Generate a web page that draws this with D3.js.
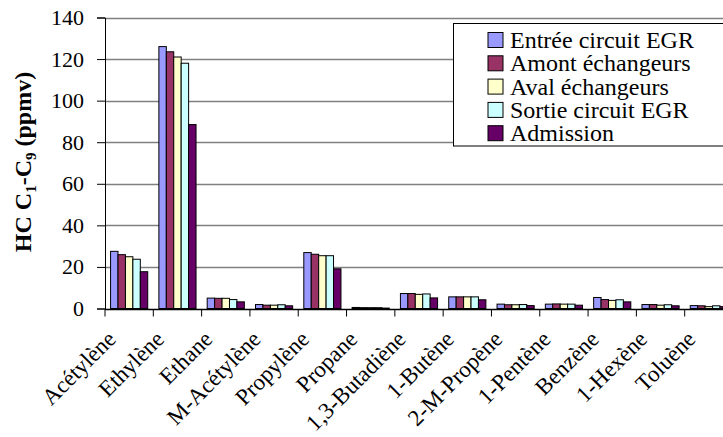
<!DOCTYPE html>
<html><head><meta charset="utf-8">
<script src="https://cdn.jsdelivr.net/npm/d3@7"></script>
<style>body{margin:0;background:#fff;} svg{display:block;} svg text{font-family:"Liberation Serif","Times New Roman",serif !important;fill:#000;}</style>
</head><body>
<svg id="c" width="723" height="437"></svg>
<script>
const categories = ["Acétylène","Ethylène","Ethane","M-Acétylène","Propylène","Propane","1,3-Butadiène","1-Butène","2-M-Propène","1-Pentène","Benzène","1-Hexène","Toluène"];
const seriesNames = ["Entrée circuit EGR","Amont échangeurs","Aval échangeurs","Sortie circuit EGR","Admission"];
const entree  = [27.5,126.0,5.0,1.9,26.9,0.5,7.2,5.6,2.1,2.1,5.3,1.9,1.4];
const amont   = [25.9,123.5,4.9,1.6,26.1,0.4,7.2,5.6,1.8,2.2,4.3,1.9,1.3];
const aval    = [24.9,121.0,4.9,1.6,25.4,0.4,6.8,5.6,1.8,2.1,3.9,1.6,0.9];
const sortie  = [23.7,118.0,4.3,1.8,25.4,0.4,7.0,5.6,1.9,2.1,4.2,1.8,1.3];
const admission = [17.7,88.5,3.2,1.3,19.1,0.2,5.1,4.2,1.4,1.6,3.2,1.3,0.9];
const yTicks = [0,20,40,60,80,100,120,140];
const colors = ["#9999FF","#993366","#FFFFCC","#CCFFFF","#660066"];
const series = [entree, amont, aval, sortie, admission];

const svg = d3.select("#c");
const mLeft = 105, mRight = 733, mTop = 17.5, mBottom = 308.5;
const x = d3.scaleBand().domain(categories).range([mLeft, mRight]).paddingInner(0).paddingOuter(0);
const bw = x.bandwidth();
const inner = d3.scaleBand().domain(d3.range(5)).range([0, bw]).paddingInner(0).paddingOuter(0.75);
const y = d3.scaleLinear().domain([0,140]).range([mBottom, mTop]);

// gridlines
svg.append("g").selectAll("line").data(yTicks.filter(d=>d>0)).join("line")
  .attr("x1", mLeft).attr("x2", mRight).attr("y1", d=>Math.round(y(d))+0.5).attr("y2", d=>Math.round(y(d))+0.5)
  .attr("stroke", "#808080").attr("stroke-width", 1.3);

// bars
const gs = svg.append("g");
series.forEach((vals, si) => {
  gs.append("g").selectAll("rect").data(vals).join("rect")
    .attr("x", (d,i)=> x(categories[i]) + inner(si))
    .attr("width", inner.bandwidth())
    .attr("y", d=> y(d))
    .attr("height", d=> y(0)-y(d))
    .attr("fill", colors[si])
    .attr("stroke", "#000").attr("stroke-width", 1);
});

// y axis
const ya = d3.axisLeft(y).tickValues(yTicks).tickSize(8).tickPadding(13).tickFormat(d3.format("d"));
const yg = svg.append("g").attr("transform", `translate(${mLeft},0)`).call(ya);
yg.select(".domain").attr("stroke", "#000");
yg.selectAll(".tick line").attr("stroke","#000");
yg.selectAll("text").attr("font-size", 22);

// x axis
const xg = svg.append("g").attr("transform", `translate(0,${Math.round(mBottom)+0.5})`);
xg.append("line").attr("x1", mLeft).attr("x2", mRight).attr("stroke","#000").attr("stroke-width",1.3);
xg.selectAll("line.t").data(categories).join("line").attr("class","t")
  .attr("x1", d=>x(d)).attr("x2", d=>x(d)).attr("y1",0).attr("y2",7).attr("stroke","#000");
xg.selectAll("text.lab").data(categories).join("text").attr("class","lab")
  .attr("transform", d=>`translate(${x(d)+bw/2-12},${31}) rotate(-45)`)
  .attr("text-anchor","end")
  .attr("font-size", 23).text(d=>d);

// y title
const t = svg.append("text").attr("transform", `translate(31,162) rotate(-90)`)
  .attr("text-anchor","middle").attr("font-size",24).attr("font-weight","bold");
t.append("tspan").text("HC C");
t.append("tspan").attr("font-size",15).attr("dy",5).text("1");
t.append("tspan").attr("dy",-5).text("-C");
t.append("tspan").attr("font-size",15).attr("dy",5).text("9");
t.append("tspan").attr("dy",-5).text(" (ppmv)");

// legend
const lg = svg.append("g");
lg.append("rect").attr("x",453.5).attr("y",23.5).attr("width",300).attr("height",122.5)
  .attr("fill","#fff").attr("stroke","#000");
seriesNames.forEach((n,i)=>{
  const cy = 40 + i*23.3;
  lg.append("rect").attr("x",488).attr("y",cy-7.5).attr("width",15).attr("height",15)
    .attr("fill",colors[i]).attr("stroke","#000");
  lg.append("text").attr("x",510).attr("y",cy).attr("dy","0.33em").attr("font-size",24).text(n);
});
</script>
</body></html>
